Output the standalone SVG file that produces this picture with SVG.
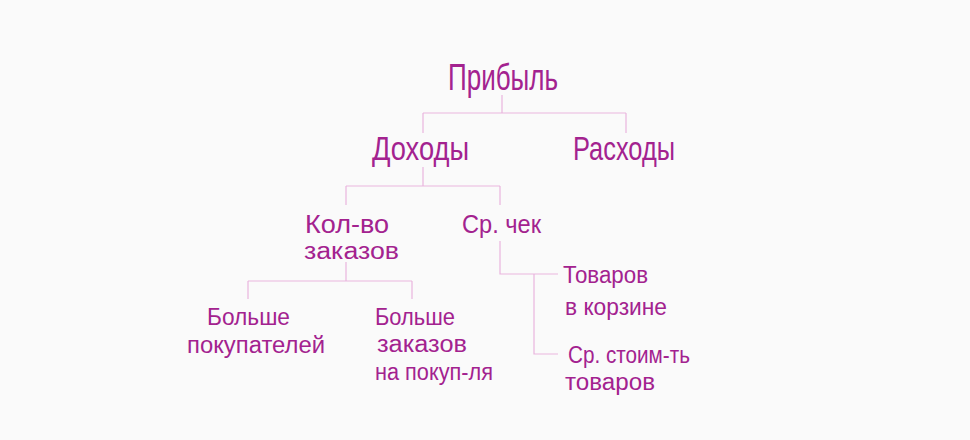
<svg xmlns="http://www.w3.org/2000/svg" width="970" height="440" viewBox="0 0 970 440">
<style>
.t{font-family:"Liberation Sans","DejaVu Sans",sans-serif;fill:#a3228f;}
.l1{font-size:36px;}
.l2{font-size:34px;}
.l3{font-size:25px;}
.l4{font-size:23px;}
.c{fill:none;stroke:#e9b5de;stroke-width:1.2;}
</style>
<rect width="970" height="440" fill="#fafafa"/>
<g id="connectors">
<path class="c" d="M502 95V113M423 113H626M423 113V133M626 113V133"/>
<path class="c" d="M423 167V186M346 186H500M346 186V205M500 186V205"/>
<path class="c" d="M346 262V281M248 281H412M248 281V299M412 281V299"/>
<path class="c" d="M500 241V274H558M534 274V354H558"/>
</g>
<g id="node-pribyl"><text class="t l1" x="448" y="90" textLength="110" lengthAdjust="spacingAndGlyphs">Прибыль</text></g>
<g id="node-dokhody"><text class="t l2" x="372" y="160" textLength="97" lengthAdjust="spacingAndGlyphs">Доходы</text></g>
<g id="node-raskhody"><text class="t l2" x="573" y="160" textLength="102" lengthAdjust="spacingAndGlyphs">Расходы</text></g>
<g id="node-kolvo">
<text class="t l3" x="305" y="233" textLength="84" lengthAdjust="spacingAndGlyphs">Кол-во</text>
<text class="t l4" x="304" y="259" textLength="95" lengthAdjust="spacingAndGlyphs">заказов</text>
</g>
<g id="node-chek"><text class="t l3" x="462" y="233" textLength="79" lengthAdjust="spacingAndGlyphs">Ср. чек</text></g>
<g id="node-pokupateli">
<text class="t l4" x="207" y="325" textLength="83" lengthAdjust="spacingAndGlyphs">Больше</text>
<text class="t l4" x="187" y="353" textLength="138" lengthAdjust="spacingAndGlyphs">покупателей</text>
</g>
<g id="node-zakazy">
<text class="t l4" x="375" y="325" textLength="80" lengthAdjust="spacingAndGlyphs">Больше</text>
<text class="t l4" x="377" y="352" textLength="90" lengthAdjust="spacingAndGlyphs">заказов</text>
<text class="t l4" x="375" y="380" textLength="118" lengthAdjust="spacingAndGlyphs">на покуп-ля</text>
</g>
<g id="node-korzina">
<text class="t l4" x="563" y="283" textLength="85" lengthAdjust="spacingAndGlyphs">Товаров</text>
<text class="t l4" x="565" y="315" textLength="102" lengthAdjust="spacingAndGlyphs">в корзине</text>
</g>
<g id="node-stoimost">
<text class="t l4" x="568" y="363" textLength="122" lengthAdjust="spacingAndGlyphs">Ср. стоим-ть</text>
<text class="t l4" x="565" y="390" textLength="90" lengthAdjust="spacingAndGlyphs">товаров</text>
</g>
</svg>
